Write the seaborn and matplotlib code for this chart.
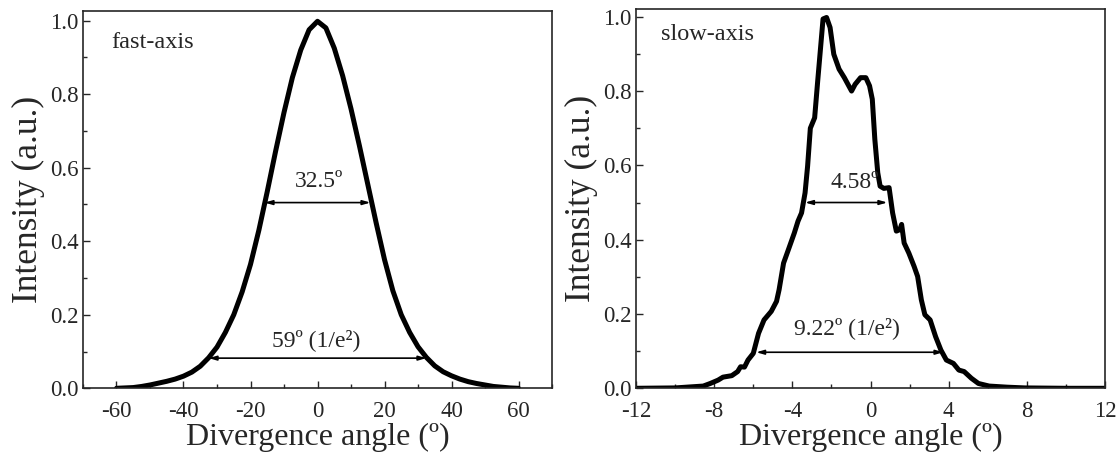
import numpy as np
import pandas as pd
import matplotlib
matplotlib.use("Agg")
import matplotlib.pyplot as plt
import seaborn as sns

# ---- data ----
fast_angle = [-60, -57.5, -55, -52.5, -50, -47.5, -45, -42.5, -40, -37.5, -35, -32.5, -30, -27.5, -25,
              -22.5, -20, -17.5, -15, -12.5, -10, -7.5, -5, -2.5, 0, 2.5, 5, 7.5, 10, 12.5, 15, 17.5,
              20, 22.5, 25, 27.5, 30, 32.5, 35, 37.5, 40, 42.5, 45, 47.5, 50, 52.5, 55, 57.5, 60]
fast_int = [0.0, 0.001, 0.002, 0.005, 0.009, 0.014, 0.019, 0.025, 0.033, 0.044, 0.06, 0.083, 0.112, 0.152, 0.2,
            0.262, 0.337, 0.43, 0.535, 0.645, 0.75, 0.845, 0.92, 0.975, 0.998, 0.98, 0.925, 0.85, 0.76, 0.66, 0.555, 0.45,
            0.35, 0.265, 0.2, 0.152, 0.113, 0.084, 0.061, 0.045, 0.034, 0.025, 0.018, 0.013, 0.009, 0.005, 0.003, 0.001, 0.0]

slow_angle = [-12, -10, -8.56, -8.2, -7.8, -7.55, -7.1, -6.8, -6.65, -6.45, -6.27, -6.0, -5.73, -5.45,
              -5.08, -4.81, -4.68, -4.45, -4.17, -3.9, -3.71, -3.53, -3.35, -3.22, -3.08, -2.86, -2.71,
              -2.43, -2.25, -2.07, -1.88, -1.61, -1.34, -0.97, -0.79, -0.51, -0.24, -0.05, 0.09, 0.22,
              0.37, 0.49, 0.68, 0.95, 1.13, 1.32, 1.50, 1.59, 1.72, 1.96, 2.23, 2.41, 2.60, 2.78, 3.05,
              3.33, 3.60, 3.88, 4.24, 4.52, 4.79, 5.16, 5.52, 6.07, 6.99, 7.9, 10, 12]
slow_int = [0.0, 0.001, 0.006, 0.013, 0.022, 0.03, 0.034, 0.045, 0.058, 0.057, 0.076, 0.094, 0.148, 0.184,
            0.207, 0.234, 0.265, 0.337, 0.378, 0.418, 0.45, 0.472, 0.526, 0.598, 0.70, 0.728, 0.823,
            0.994, 0.998, 0.971, 0.899, 0.859, 0.836, 0.80, 0.818, 0.836, 0.836, 0.814, 0.778, 0.67,
            0.58, 0.544, 0.538, 0.54, 0.472, 0.423, 0.427, 0.441, 0.391, 0.364, 0.328, 0.301, 0.238, 0.198, 0.184,
            0.139, 0.103, 0.076, 0.067, 0.049, 0.045, 0.027, 0.013, 0.006, 0.003, 0.001, 0.0, 0.0]

fast_ticks = [-60, -40, -20, 0, 20, 40, 60]
slow_ticks = [-12, -8, -4, 0, 4, 8, 12]
y_ticks = [0.0, 0.2, 0.4, 0.6, 0.8, 1.0]

fast_fwhm = (-15.8, 15.8, 0.505, "32.5º")
fast_e2 = (-32.5, 32.5, 0.082, "59º (1/e²)")
slow_fwhm = (-3.35, 0.86, 0.50, "4.58º")
slow_e2 = (-5.85, 3.73, 0.097, "9.22º (1/e²)")

sns.set_style("ticks")
plt.rcParams['font.family'] = ['Liberation Serif', 'DejaVu Serif']

fig = plt.figure(figsize=(11.17, 4.58), dpi=100)
ax1 = fig.add_axes([0.0743, 0.1522, 0.4199, 0.8238])
ax2 = fig.add_axes([0.5694, 0.1522, 0.4199, 0.8275])

df_fast = pd.DataFrame({"angle": fast_angle, "intensity": fast_int})
df_slow = pd.DataFrame({"angle": slow_angle, "intensity": slow_int})

sns.lineplot(data=df_fast, x="angle", y="intensity", ax=ax1, color="black", lw=3.6, sort=False,
             solid_joinstyle="round", solid_capstyle="round")
sns.lineplot(data=df_slow, x="angle", y="intensity", ax=ax2, color="black", lw=3.6, sort=False,
             solid_joinstyle="round", solid_capstyle="round")

def style(ax, xlim, ylim, xticks, xminor):
    ax.set_xlim(*xlim)
    ax.set_ylim(*ylim)
    ax.set_xticks(xticks)
    ax.set_xticklabels([str(t) for t in xticks])
    ax.set_yticks(y_ticks)
    ax.set_yticklabels([f"{t:.1f}" for t in y_ticks])
    ax.xaxis.set_minor_locator(matplotlib.ticker.MultipleLocator(xminor))
    ax.yaxis.set_minor_locator(matplotlib.ticker.MultipleLocator(0.1))
    ax.tick_params(which='both', direction='in', top=False, right=False, labelsize=16.5, width=1.0)
    ax.tick_params(axis='x', which='major', pad=9)
    ax.tick_params(axis='y', which='major', pad=3)
    ax.tick_params(which='major', length=5)
    ax.tick_params(which='minor', length=3)
    for s in ax.spines.values():
        s.set_visible(True)
        s.set_linewidth(1.2)
    ax.set_xlabel("Divergence angle (º)", fontsize=23, labelpad=1)
    ax.set_ylabel("Intensity (a.u.)", fontsize=25.5, labelpad=4)

style(ax1, (-70, 70), (0, 1.026), fast_ticks, 10)
style(ax2, (-12, 12), (0, 1.02), slow_ticks, 2)

def arrow(ax, spec, tx, ty):
    x0, x1, y, label = spec
    ax.annotate("", xy=(x0, y), xytext=(x1, y),
                arrowprops=dict(arrowstyle="<|-|>,head_length=0.45,head_width=0.13",
                                color="black", lw=1.2, shrinkA=0, shrinkB=0))
    ax.text(tx, ty, label, ha="center", va="center", fontsize=17)

arrow(ax1, fast_fwhm, 0.4, 0.562)
arrow(ax1, fast_e2, -0.5, 0.131)
arrow(ax2, slow_fwhm, -0.8, 0.553)
arrow(ax2, slow_e2, -1.2, 0.163)

ax1.text(-61.5, 0.939, "fast-axis", ha="left", va="center", fontsize=17.5)
ax2.text(-10.7, 0.952, "slow-axis", ha="left", va="center", fontsize=17.5)

fig.savefig("out.png", dpi=100)
